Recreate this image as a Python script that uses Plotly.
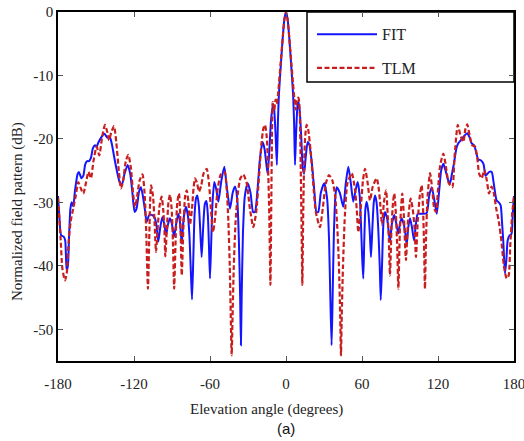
import plotly.graph_objects as go

# ---- data ----
fit_angle = [-180, -179, -177.5, -175.5, -174.3, -173.2, -172.2, -171.2, -170.2, -169.2, -168, -166.5, -164.5, -163.5,
             -161.5, -160, -158.5, -157, -155.5, -154, -152.5, -150.8, -149.5, -148.2, -146, -143.4, -141, -139,
             -137.5, -135.5, -133, -131, -129.5, -127.5, -125, -123, -121.5, -119.5, -118, -116, -114.5, -113,
             -111.5, -110, -108, -105.5, -103.5, -102, -100.8, -99.3, -97.6, -96, -94.7, -93.2, -91.6, -90, -88.4,
             -86.8, -85, -83.8, -82.3, -80.8, -79, -77.5, -76.3, -75.1, -74.2, -73.2, -72.2, -71, -70, -68.8,
             -67.8, -66.6, -65.4, -64, -62.8, -61.7, -60.8, -60, -59, -58, -56.6, -55, -53.4, -51.2, -48.7, -46.5,
             -44.2, -42, -40.2, -38.5, -37.2, -36.2, -35.6, -35, -34, -32.5, -30.2, -28, -26, -24.5, -22.5, -20.5,
             -18.5, -17, -15.5, -14.5, -13.2, -11.8, -10.2, -9.3, -8.3, -7.2, -6.4, -5.6, -4.3, -2.6, -1.3, 0,
             1.3, 2.6, 4.3, 5.6, 6.4, 7.1, 8, 9, 9.8, 10.8, 12, 13.2, 14.3, 15.5, 17.1, 18.5, 20.5, 22.5, 24, 25.5,
             27.5, 30.2, 32.5, 34, 35, 36, 36.8, 37.8, 39, 40, 42.5, 45.2, 47.2, 49.2, 51.2, 53.1, 55, 56.6, 58.2,
             59.3, 60.2, 61, 61.8, 62.7, 63.7, 65, 66.2, 67.1, 68.2, 69.3, 70.3, 71.5, 72.8, 74, 74.8, 75.8, 77,
             78.2, 79.8, 81, 82.1, 83.5, 85.5, 87, 88.7, 90, 91.4, 93, 94.3, 95.3, 96.5, 97.9, 99.5, 101.1, 102.5,
             104, 107, 111, 113, 115, 117, 119, 121, 122.5, 124.2, 126, 128, 129.5, 131, 132.5, 134.5, 136, 138,
             140, 143.1, 145, 146.6, 148.5, 150, 151.8, 153, 154.5, 156, 157.5, 159, 160.5, 162.4, 164, 166.3, 168,
             169.5, 170.5, 171.5, 172.9, 174, 175, 176.5, 178, 179, 180]
fit_db = [-29, -32, -35.2, -35.4, -36, -40.7, -40, -35, -31, -30, -30.6, -28, -25.5, -25.2,
          -26.2, -25.8, -24, -23.5, -23.5, -23, -21.5, -21, -21.2, -20.6, -19.8, -19.2, -19.8, -19.8,
          -20.8, -23, -25.5, -27, -27.2, -25.5, -24.1, -25.5, -28, -31.5, -31, -28.3, -27.6, -29,
          -31, -33.1, -32, -32, -32.5, -34, -36.2, -34, -32.3, -33.5, -35.2, -33.5, -32.5, -33.5, -35.4,
          -33.5, -31.8, -33, -36.5, -32.5, -30.7, -32, -35, -41, -45.3, -39, -32, -29.3, -28.9, -30.5,
          -34, -38.6, -34, -30.2, -29.8, -32, -37, -42, -36, -30, -26.8, -28, -29.9, -26.8, -24.4, -28,
          -31, -28.4, -27.5, -29.5, -36, -45, -52.5, -45, -35, -29, -27, -28.5, -31.5, -31.5, -28, -23,
          -20.5, -21.5, -24, -25.5, -22, -17, -14.5, -15.5, -19, -24.1, -17.5, -13, -9, -4.1, -1.2, 0,
          -1.2, -4.1, -9, -13, -17.5, -24.1, -19, -15, -14.1, -15.5, -19.5, -24.5, -25.5, -23, -20.5, -21, -24, -28.5, -31.5, -31.5,
          -28.5, -27, -29.5, -36, -45, -52.5, -45, -35, -29, -27.6, -28.5, -30.7, -27, -24.4, -27, -29.9, -28, -26.8, -29,
          -34, -39, -42, -36, -31, -29.9, -31.5, -35, -38.6, -34, -30, -28.9, -30, -34, -40, -45.4, -40, -33,
          -31.5, -32.5, -34.5, -36.2, -33.5, -32, -33.3, -34.9, -33.3, -32.5, -33.5, -35, -36.7, -34, -32.5, -34, -36, -33.5,
          -31.8, -31.8, -31.7, -29, -27.6, -29.5, -31.8, -28, -25, -23.9, -25, -26.5, -27, -25.5, -24, -21.5, -20.7, -20.2,
          -19.7, -19.1, -19.8, -20.7, -21, -22, -23.3, -23.3, -23.5, -24, -25.8, -25.5, -25.2, -25.2, -27, -29.7, -30,
          -30.5, -33, -36, -41.2, -39, -36, -35.2, -35, -32, -29]

tlm_angle = [-180, -178, -176.5, -174.5, -173, -171.5, -170, -168, -166, -164, -162, -160, -158, -156, -154, -152,
             -149.5, -147.4, -145, -142.9, -141, -139.7, -138, -135.8, -134, -132, -130.3, -128.5, -126.5, -124.5,
             -122.5, -120.5, -119, -117.5, -115.5, -113.3, -111.5, -110.3, -109, -108, -107.3, -106.5, -105, -103.8,
             -102.6, -101.3, -99.8, -98.2, -97, -96, -95.3, -94, -92.8, -91.6, -90.3, -89.3, -88.3, -87, -85.8,
             -84.5, -83.5, -82.3, -81, -79.6, -78.4, -77, -75.8, -74.2, -73, -71.8, -70.2, -68.7, -67, -65, -62.6,
             -60.8, -59.3, -57.6, -56, -54, -51.5, -48.5, -46.8, -45.5, -44.4, -43.6, -42.9, -42.2, -41.2, -39.8,
             -38, -36, -33.7, -31, -28.5, -25.8, -23.5, -21.5, -19.5, -17.8, -16.6, -15.3, -14.2, -13.2, -12.3,
             -11.8, -11.2, -10.5, -9.3, -8.3, -7.2, -6.2, -5.5, -4.3, -2.6, -1.3, 0,
             1.3, 2.6, 4.3, 5.5, 6.6, 7.8, 8.8, 9.8, 10.8, 11.6, 12.3, 12.9, 13.5, 14.3, 15.2, 16.3, 17.5, 19.5,
             21.5, 23.5, 26.8, 29, 31.5, 33.9, 36.5, 38.8, 40.5, 41.8, 42.8, 43.4, 44, 45, 46.5, 48.5, 51.9, 54.5,
             55.8, 57.1, 59, 60.8, 62.4, 64.5, 66.3, 68.5, 71.6, 73, 74.3, 75.8, 77.3, 79, 80.3, 81.2, 82.1, 83.3,
             84.5, 85.5, 86.8, 87.8, 88.7, 90, 91.8, 93, 94.7, 96.3, 98.4, 100, 101.5, 102.6, 104, 105.6, 107.1,
             108.2, 109, 109.7, 110.5, 111.8, 113.7, 115.5, 117, 118.4, 120, 121.5, 123, 124.2, 126, 128.5, 131.3,
             133, 135.6, 137.8, 140, 141.6, 143.1, 145, 147, 149.2, 151, 152.5, 154.5, 156.6, 158.5, 160.3, 162.3,
             164, 166, 168, 170, 172, 174.2, 175.8, 177, 178.5, 180]
tlm_db = [-29.3, -35.5, -40.5, -42.3, -41, -36, -33, -31, -29, -26.8, -27.8, -28.6, -27, -25.2, -26.2, -23.5,
          -21.2, -22.6, -19.5, -17.8, -19, -20.2, -19, -18, -20.5, -25, -27.8, -26.5, -23.5, -22.5,
          -24.5, -29, -30.7, -29, -26.5, -25.6, -29, -35, -43.6, -36, -30, -27.3, -29, -33,
          -37.8, -34, -30.5, -29.1, -31, -34, -38.5, -34, -30, -28.8, -31, -36, -43.6, -35, -30,
          -28.6, -32, -41.5, -34, -29, -28.1, -30, -33.5, -31, -27.8, -26.2, -27, -28.3, -27.4, -25.4, -24.7,
          -27, -31, -34.7, -32.5, -28, -25.6, -25.2, -28, -33, -40, -48, -54.1, -48, -40, -33,
          -28.5, -26.2, -25.6, -27, -31, -33.9, -31.5, -26.5, -21, -18.3, -17.8, -19.5, -24, -32, -43,
          -34, -22, -14.2, -15.6, -13.8, -14.5, -12.8, -11.2, -8.2, -4.1, -1.2, 0,
          -1.2, -4.1, -8.2, -11.2, -13.6, -15.4, -13.6, -13.5, -15.5, -24, -34, -43, -33, -24, -19.5, -17.8, -18.5, -22,
          -27, -31.5, -33.9, -31, -27, -25.7, -26.5, -29, -34, -40, -48, -54.1, -48, -40, -32, -27, -25.4, -28,
          -31, -34.7, -31, -26.5, -24.7, -27, -29.7, -27.5, -26.2, -27.5, -30, -33.5, -30, -28.1, -32, -36, -41.5, -34,
          -30, -28.6, -32, -37, -43.6, -34, -28.6, -32, -39.1, -33, -29.4, -31, -34, -38.6, -33, -29, -27.3,
          -31, -37, -43.6, -36, -29, -25.4, -28, -31, -31.5, -28, -24.5, -23, -22.3, -24, -27, -27.6,
          -23, -17.8, -19.5, -20.5, -18.5, -17.7, -19.5, -21, -21.2, -23, -25.5, -26.2, -24.9, -26.5, -28.6, -27.5,
          -28.5, -31, -33, -36, -40, -42, -41.5, -37, -32, -29]

x_ticks = [-180, -120, -60, 0, 60, 120, 180]
y_ticks = [0, -10, -20, -30, -40, -50]
series_names = ["FIT", "TLM"]

SERIF = "Liberation Serif, Times New Roman, serif"

# page layout in window pixels (body margin removed by post_script)
PLOT_L, PLOT_R, PLOT_T, PLOT_B = 58, 514, 12, 361
FIG_W, FIG_H = 530, 441
PW, PH = PLOT_R - PLOT_L, PLOT_B - PLOT_T


def px(xp):
    return (xp - PLOT_L) / PW


def py(yp):
    return (PLOT_B - yp) / PH


fig = go.Figure()
fig.add_trace(go.Scatter(
    x=fit_angle, y=fit_db, mode="lines", name=series_names[0], legendgroup="a",
    line=dict(color="#1414ff", width=2, shape="spline", smoothing=0.6),
))
fig.add_trace(go.Scatter(
    x=tlm_angle, y=tlm_db, mode="lines", name=series_names[1], legendgroup="b",
    line=dict(color="#c81e1e", width=2.2, dash="5px,2.5px", shape="spline", smoothing=0.6),
))

# legend frame
fig.add_shape(type="rect", xref="paper", yref="paper", x0=px(307), x1=1.0, y0=py(82), y1=1.0,
              line=dict(color="black", width=1.5), fillcolor="white", layer="below")

fig.add_annotation(text="Elevation angle (degrees)", xref="paper", yref="paper",
                   x=px(266), y=py(409), xanchor="center", yanchor="middle",
                   showarrow=False, font=dict(family=SERIF, size=15, color="#222"))
fig.add_annotation(text="Normalized field pattern (dB)", xref="paper", yref="paper",
                   x=px(17), y=py(212), xanchor="center", yanchor="middle",
                   textangle=-90, showarrow=False, font=dict(family=SERIF, size=15, color="#222"))
fig.add_annotation(text="(a)", xref="paper", yref="paper",
                   x=px(286), y=py(428), xanchor="center", yanchor="middle",
                   showarrow=False, font=dict(family="Liberation Sans, Arial, sans-serif", size=15, color="#111"))

fig.update_layout(
    width=FIG_W, height=FIG_H,
    margin=dict(l=PLOT_L, r=FIG_W - PLOT_R, t=PLOT_T, b=FIG_H - PLOT_B, autoexpand=False),
    paper_bgcolor="white", plot_bgcolor="white",
    showlegend=True,
    legend=dict(x=px(312), y=0.985, xanchor="left", yanchor="top", bgcolor="rgba(0,0,0,0)",
                borderwidth=0, tracegroupgap=10, itemwidth=60,
                font=dict(family=SERIF, size=16, color="#222")),
    xaxis=dict(range=[-180, 180], tickvals=x_ticks, ticktext=[str(v) for v in x_ticks],
               showline=True, linecolor="black", linewidth=1.5, mirror="ticks",
               ticks="inside", ticklen=5, tickcolor="#555", tickwidth=1, automargin=False,
               showgrid=False, zeroline=False, ticklabelstandoff=8,
               tickfont=dict(family=SERIF, size=15, color="#222")),
    yaxis=dict(range=[-55, 0], tickvals=y_ticks, ticktext=[str(v) for v in y_ticks],
               showline=True, linecolor="black", linewidth=1.5, mirror="ticks",
               ticks="inside", ticklen=5, tickcolor="#555", tickwidth=1, automargin=False,
               showgrid=False, zeroline=False,
               tickfont=dict(family=SERIF, size=15, color="#222")),
)

fig.write_html(
    "out.html",
    config={"displayModeBar": False},
    post_script="document.body.style.margin='0px';document.body.style.overflow='hidden';",
)
